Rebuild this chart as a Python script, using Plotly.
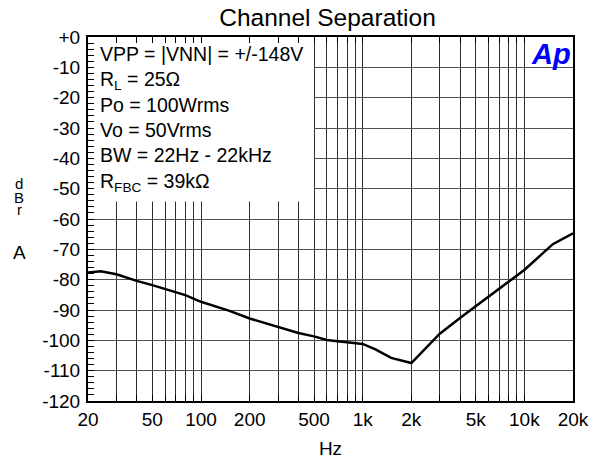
import plotly.graph_objects as go
import numpy as np

# Data
freq_hz = [20, 24, 30, 40, 50, 60, 70, 80, 100, 150, 200, 300, 400, 500, 600, 700,
           800, 1000, 1200, 1500, 2000, 3000, 4000, 5000, 7000, 10000, 15000, 20000]
separation_dbr = [-77.6, -77.2, -78.2, -80.4, -81.8, -83.1, -84.1, -85.1, -87.3, -90.3,
                  -92.8, -95.6, -97.6, -98.7, -99.9, -100.3, -100.6, -101.2, -103.0,
                  -105.8, -107.5, -97.8, -92.6, -88.7, -82.8, -76.8, -68.3, -64.7]

x_grid_vals = [20, 30, 40, 50, 60, 70, 80, 90, 100, 200, 300, 400, 500, 600, 700, 800, 900,
               1000, 2000, 3000, 4000, 5000, 6000, 7000, 8000, 9000, 10000, 20000]
x_labels = {20: "20", 50: "50", 100: "100", 200: "200", 500: "500", 1000: "1k",
            2000: "2k", 5000: "5k", 10000: "10k", 20000: "20k"}
x_tick_text = [x_labels.get(v, "") for v in x_grid_vals]

y_tick_vals = list(range(0, -130, -10))
y_tick_text = ["+0"] + [str(v) for v in y_tick_vals[1:]]

legend_lines = ["VPP = |VNN| = +/-148V", "R<sub>L</sub> = 25Ω", "Po = 100Wrms",
                "Vo = 50Vrms", "BW = 22Hz - 22kHz", "R<sub>FBC</sub> = 39kΩ"]
ylabel_letters = ["d", "B", "r", "A"]

# legend box extent (frequency / dBr)
box_f = [20, 500]
box_db = [0, -54.2]

FONT = "Liberation Sans, Arial, sans-serif"
OFF = 8  # page body margin
W, H = 599, 461
PL, PT, PW, PH = 88, 37, 485, 364  # plot area in page pixels
L, T = PL - OFF, PT - OFF
R, B = W - L - PW, H - T - PH


def px_x(x):
    return (x - PL) / PW


def px_y(y):
    return 1 - (y - PT) / PH


fig = go.Figure()

# white legend box as a filled trace: above the grid, below axis ticks
fig.add_trace(go.Scatter(
    x=[box_f[0], box_f[1], box_f[1], box_f[0], box_f[0]],
    y=[box_db[0], box_db[0], box_db[1], box_db[1], box_db[0]],
    mode="lines", fill="toself", fillcolor="white", line=dict(width=0, color="white"),
    showlegend=False, hoverinfo="skip"))

fig.add_trace(go.Scatter(x=freq_hz, y=separation_dbr, mode="lines",
                         line=dict(color="black", width=2.5), showlegend=False,
                         hoverinfo="skip"))

fig.add_annotation(xref="paper", yref="paper", x=px_x(98), y=px_y(41),
                   xanchor="left", yanchor="top", align="left", showarrow=False,
                   text="<br>".join(legend_lines),
                   font=dict(family=FONT, size=19.5, color="black"))

# Ap logo
fig.add_annotation(xref="paper", yref="paper", x=px_x(551), y=px_y(54),
                   xanchor="center", yanchor="middle", showarrow=False,
                   text="<b><i>Ap</i></b>",
                   font=dict(family=FONT, size=29, color="#0000ff"))

# vertical y-axis label letters
letter_y = [183.5, 197, 209, 252.5]
letter_size = [15, 15, 15, 19]
for ch, yp, fs in zip(ylabel_letters, letter_y, letter_size):
    fig.add_annotation(xref="paper", yref="paper", x=px_x(19), y=px_y(yp),
                       xanchor="center", yanchor="middle", showarrow=False, text=ch,
                       font=dict(family=FONT, size=fs, color="black"))

fig.update_layout(
    width=W, height=H,
    margin=dict(l=L, r=R, t=T, b=B, pad=0),
    paper_bgcolor="white", plot_bgcolor="white",
    title=dict(text="Channel Separation", x=(327.5 - OFF) / W, y=1 - (17.5 - OFF) / H,
               xanchor="center", yanchor="middle",
               font=dict(family=FONT, size=24.5, color="black")),
    font=dict(family=FONT, size=19, color="black"),
)

fig.update_xaxes(type="log", range=[np.log10(20), np.log10(20000)],
                 tickmode="array", tickvals=x_grid_vals, ticktext=x_tick_text,
                 showgrid=True, gridcolor="#303030", gridwidth=1,
                 ticks="inside", ticklen=6, tickcolor="black",
                 showline=True, linecolor="black", linewidth=2, mirror="ticks",
                 tickfont=dict(family=FONT, size=19), zeroline=False,
                 title=dict(text="Hz", font=dict(family=FONT, size=19), standoff=13))

fig.update_yaxes(range=[-120, 0], tickmode="array", tickvals=y_tick_vals,
                 ticktext=y_tick_text, showgrid=True, gridcolor="#505050", gridwidth=1,
                 ticks="inside", ticklen=6, tickcolor="black",
                 minor=dict(dtick=2, tick0=0, ticks="inside", ticklen=6,
                            tickcolor="black", showgrid=False),
                 showline=True, linecolor="black", linewidth=2, mirror=True,
                 ticklabelstandoff=2,
                 tickfont=dict(family=FONT, size=19), zeroline=False)

fig.write_html("out.html")
